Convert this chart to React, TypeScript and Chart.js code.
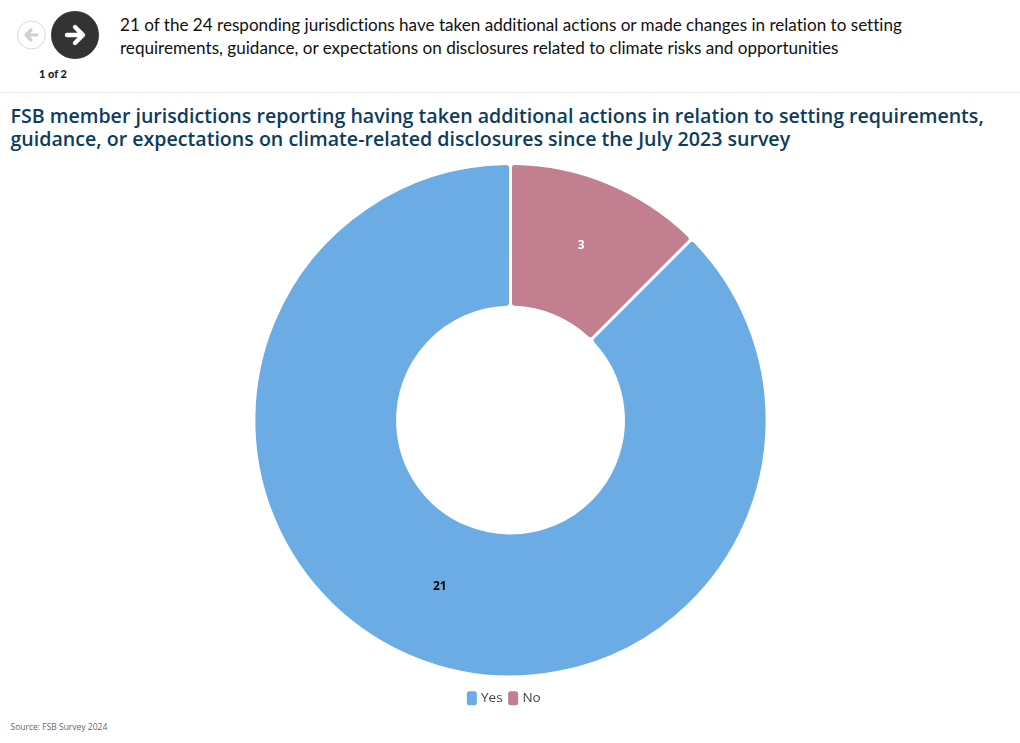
import React, { useEffect, useRef } from "react";
import { Chart, registerables } from "chart.js";

Chart.register(...registerables);

const categories = ["Yes", "No"];
const values = [21, 3];
const colors = ["#6cace4", "#c27f90"];
const labelColors = ["#000000", "#ffffff"];
const headlineLines = [
  "21 of the 24 responding jurisdictions have taken additional actions or made changes in relation to setting",
  "requirements, guidance, or expectations on disclosures related to climate risks and opportunities",
];
const chartTitle = "FSB member jurisdictions reporting having taken additional actions in relation to setting requirements, guidance, or expectations on climate-related disclosures since the July 2023 survey";
const source = "Source: FSB Survey 2024";

const sliceLabels = {
  id: "sliceLabels",
  afterLayout(chart: any) {
    if (chart.legend) {
      chart.legend.left -= 5.5;
      chart.legend.right -= 5.5;
    }
  },
  afterDatasetsDraw(chart: any) {
    const { ctx } = chart;
    const meta = chart.getDatasetMeta(0);
    meta.data.forEach((arc: any, i: number) => {
      const p = arc.tooltipPosition();
      ctx.save();
      ctx.font = "700 12px 'Open Sans'";
      ctx.fillStyle = labelColors[i];
      ctx.textAlign = "center";
      ctx.textBaseline = "middle";
      ctx.fillText(String(values[i]), p.x, p.y - 4);
      ctx.restore();
    });
  },
};

const abs = (o: React.CSSProperties): React.CSSProperties => ({ position: "absolute", margin: 0, ...o });

export default function App() {
  const ref = useRef<HTMLCanvasElement>(null);
  useEffect(() => {
    document.body.style.margin = "0";
    document.body.style.background = "#fff";
    const chart = new Chart(ref.current!, {
      type: "doughnut",
      data: {
        labels: categories,
        datasets: [{ data: values, backgroundColor: colors, borderColor: "#fff", borderWidth: 3, borderRadius: 4, hoverOffset: 0 }],
      },
      plugins: [sliceLabels],
      options: {
        responsive: false,
        animation: false,
        cutout: "44%",
        rotation: 45,
        layout: { padding: { top: 2, bottom: 0, left: 0, right: 0 } },
        plugins: {
          tooltip: { enabled: false },
          legend: {
            position: "bottom",
            title: { display: true, text: " ", font: { size: 1 }, padding: { top: 0, bottom: 4 } },
            labels: {
              boxWidth: 5,
              boxHeight: 9,
              padding: 8,
              color: "#444",
              font: { family: "'Open Sans'", size: 13.5 },
              generateLabels: () =>
                categories.map((text, i) => ({
                  text,
                  index: i,
                  fillStyle: colors[i],
                  strokeStyle: colors[i],
                  lineWidth: 5,
                  lineJoin: "round",
                  fontColor: "#444",
                  hidden: false,
                })),
            },
          },
        },
      },
    } as any);
    return () => chart.destroy();
  }, []);

  return (
    <div style={{ position: "relative", width: 1020, height: 743, overflow: "hidden", background: "#fff" }}>
      <svg style={abs({ left: 0, top: 0 })} width={110} height={90}>
        <circle cx={31.5} cy={35} r={14} fill="#fff" stroke="#d8d8d8" strokeWidth={1} />
        <path d="M37 35H27M31 30l-5 5 5 5" fill="none" stroke="#cfcfcf" strokeWidth={3.2} strokeLinecap="round" strokeLinejoin="round" />
        <circle cx={75} cy={35} r={24} fill="#333333" />
        <path d="M67 35H81M75 27l8 8-8 8" fill="none" stroke="#fff" strokeWidth={4.4} strokeLinecap="round" strokeLinejoin="round" />
      </svg>
      <div style={abs({ left: 13, width: 80, top: 67, textAlign: "center", font: "900 11px/14px 'Lato'", color: "#222" })}>1 of 2</div>
      <p style={abs({ left: 120, top: 13, whiteSpace: "nowrap", font: "400 17.1px/23px 'Lato'", fontVariantLigatures: "none", color: "#111" })}>
        {headlineLines[0]}<br />{headlineLines[1]}
      </p>
      <div style={abs({ left: 0, top: 92, width: 1020, height: 1, background: "#ececec" })} />
      <p style={abs({ left: 10.5, top: 104, width: 1000, font: "600 19.6px/23px 'Open Sans'", color: "#0c3c60" })}>{chartTitle}</p>
      <canvas ref={ref} width={1021} height={555} style={abs({ left: 0, top: 160, display: "block" })} />
      <div style={abs({ left: 10.5, top: 720, font: "400 8.5px/13px 'Open Sans'", color: "#666" })}>{source}</div>
    </div>
  );
}
